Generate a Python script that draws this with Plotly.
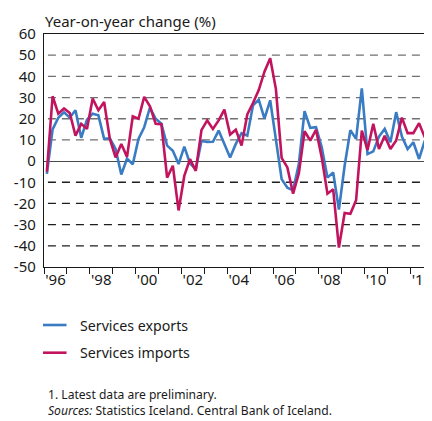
import plotly.graph_objects as go

# ---------------- data ----------------
QUARTERS = [f"{y}Q{q}" for y in range(1996, 2013) for q in range(1, 5)][:67]

SERVICES_EXPORTS = [
    -6.0, 15.0, 20.5, 23.0,      # 1996
    20.5, 24.0, 11.0, 19.5,      # 1997
    22.4, 21.6, 10.5, 10.7,      # 1998
    5.7, -6.3, 1.2, -1.5,        # 1999
    10.5, 16.0, 25.3, 20.0,      # 2000
    17.6, 7.3, 4.9, -1.4,        # 2001
    6.8, -1.1, -3.8, 9.5,        # 2002
    9.0, 9.1, 14.4, 8.1,         # 2003
    1.7, 8.1, 13.2, 12.0,        # 2004
    26.3, 29.0, 20.0, 28.7,      # 2005
    9.0, -8.5, -12.6, -13.8,     # 2006
    -1.4, 23.6, 15.7, 16.0,      # 2007
    6.5, -7.8, -5.4, -22.9,      # 2008
    -2.2, 14.6, 10.5, 34.3,      # 2009
    3.3, 4.6, 11.6, 15.2,        # 2010
    8.9, 23.1, 11.6, 5.7,        # 2011
    8.9, 1.0, 9.7,               # 2012
]

SERVICES_IMPORTS = [
    -5.0, 30.6, 22.4, 24.8,      # 1996
    22.7, 12.0, 17.6, 15.2,      # 1997
    29.5, 24.0, 27.9, 10.5,      # 1998
    1.7, 8.1, 2.0, 21.1,         # 1999
    20.0, 30.3, 25.9, 17.6,      # 2000
    17.4, -7.8, -2.2, -23.3,     # 2001
    -7.0, 0.9, -4.6, 14.6,       # 2002
    19.2, 15.2, 19.2, 24.3,      # 2003
    12.5, 14.8, 7.3, 22.0,       # 2004
    27.4, 33.5, 42.2, 48.6,      # 2005
    34.0, 1.5, -3.0, -15.4,      # 2006
    -5.9, 14.1, 9.7, 14.8,       # 2007
    1.7, -15.4, -13.3, -40.8,    # 2008
    -24.5, -24.9, -18.5, 14.4,   # 2009
    5.2, 17.6, 5.7, 12.0,        # 2010
    5.7, 9.7, 20.5, 13.2,        # 2011
    13.2, 17.9, 11.2,            # 2012
]

Y_TICKS = [60, 50, 40, 30, 20, 10, 0, -10, -20, -30, -40, -50]
GRID_VALUES = [50, 40, 30, 20, 10, -10, -20, -30, -40]
X_LABEL_YEARS = list(range(1996, 2013, 2))
X_TICK_YEARS = list(range(1996, 2013))

SERIES_NAMES = ["Services exports", "Services imports"]
COLORS = ["#3a7cc3", "#c2135e"]
FOOTNOTES = ["1. Latest data are preliminary.",
             "<i>Sources:</i> Statistics Iceland. Central Bank of Iceland."]

# ---------------- layout helpers ----------------
# page body has an 8px margin, so the figure is sized to fit what remains
OFF = 8
W, H = 432 - OFF, 421 - OFF
L, R, T, B = 36, 0, 26, 154
PW, PH = W - L - R, H - T - B


def px(xref_pix):
    return (xref_pix - OFF - L) / PW


def py(yref_pix):
    return (H - B - (yref_pix - OFF)) / PH


def qpos(label):
    y, q = label.split("Q")
    return int(y) + (int(q) - 0.5) / 4


x_vals = [qpos(q) for q in QUARTERS]

FONT = "Noto Sans"
TXT = "#1a1a1a"

fig = go.Figure()
for name, vals, col in zip(SERIES_NAMES, [SERVICES_EXPORTS, SERVICES_IMPORTS], COLORS):
    fig.add_trace(go.Scatter(x=x_vals, y=vals, mode="lines", name=name,
                             line=dict(color=col, width=2.6), showlegend=False,
                             hoverinfo="skip"))

shapes = []
for g in GRID_VALUES:
    shapes.append(dict(type="line", xref="paper", yref="y", x0=px(48), x1=1, y0=g, y1=g,
                       line=dict(color="#707070" if g > 0 else "#1e1e1e", width=1.3,
                                 dash="8px,6px"), layer="below"))
# legend samples
for i, col in enumerate(COLORS):
    yy = 325 + i * 27.7
    shapes.append(dict(type="line", xref="paper", yref="paper", x0=px(43), x1=px(67),
                       y0=py(yy), y1=py(yy), line=dict(color=col, width=2.6)))

annotations = [
    dict(text="Year-on-year change (%)", xref="paper", yref="paper", x=px(43), y=py(21),
         xanchor="left", yanchor="middle", showarrow=False,
         font=dict(family=FONT, size=15, color=TXT)),
]
for i, name in enumerate(SERIES_NAMES):
    annotations.append(dict(text=name, xref="paper", yref="paper", x=px(79), y=py(325 + i * 27.7),
                            xanchor="left", yanchor="middle", showarrow=False,
                            font=dict(family=FONT, size=14.2, color=TXT)))
annotations.append(dict(text="<br>".join(FOOTNOTES), xref="paper", yref="paper",
                        x=px(46), y=py(421), xanchor="left", yanchor="bottom", align="left",
                        showarrow=False, font=dict(family=FONT, size=12.1, color=TXT)))

fig.update_layout(
    width=W, height=H,
    margin=dict(l=L, r=R, t=T, b=B, pad=0),
    paper_bgcolor="white", plot_bgcolor="white",
    shapes=shapes, annotations=annotations,
    font=dict(family=FONT, color=TXT),
    xaxis=dict(
        range=[1996, 2012.59], showgrid=False, zeroline=False,
        showline=True, linecolor="#1a1a1a", linewidth=1.3, mirror=True,
        tickvals=[y + 0.5 for y in X_LABEL_YEARS],
        ticktext=["'" + str(y)[2:] for y in X_LABEL_YEARS],
        ticks="", ticklen=0, ticklabelstandoff=-1, ticklabeloverflow="allow",
        tickfont=dict(family=FONT, size=15, color=TXT),
        minor=dict(tickvals=X_TICK_YEARS, ticks="outside", ticklen=6,
                   tickcolor="#1a1a1a", tickwidth=1.3, showgrid=False),
    ),
    yaxis=dict(
        range=[-50, 60], showgrid=False,
        zeroline=True, zerolinecolor="#4a4a4a", zerolinewidth=1.3,
        showline=True, linecolor="#1a1a1a", linewidth=1.3,
        tickvals=Y_TICKS, ticktext=[str(v) for v in Y_TICKS],
        ticks="", ticklabelstandoff=4,
        tickfont=dict(family=FONT, size=15, color=TXT),
    ),
)

fig.write_html("out.html")
